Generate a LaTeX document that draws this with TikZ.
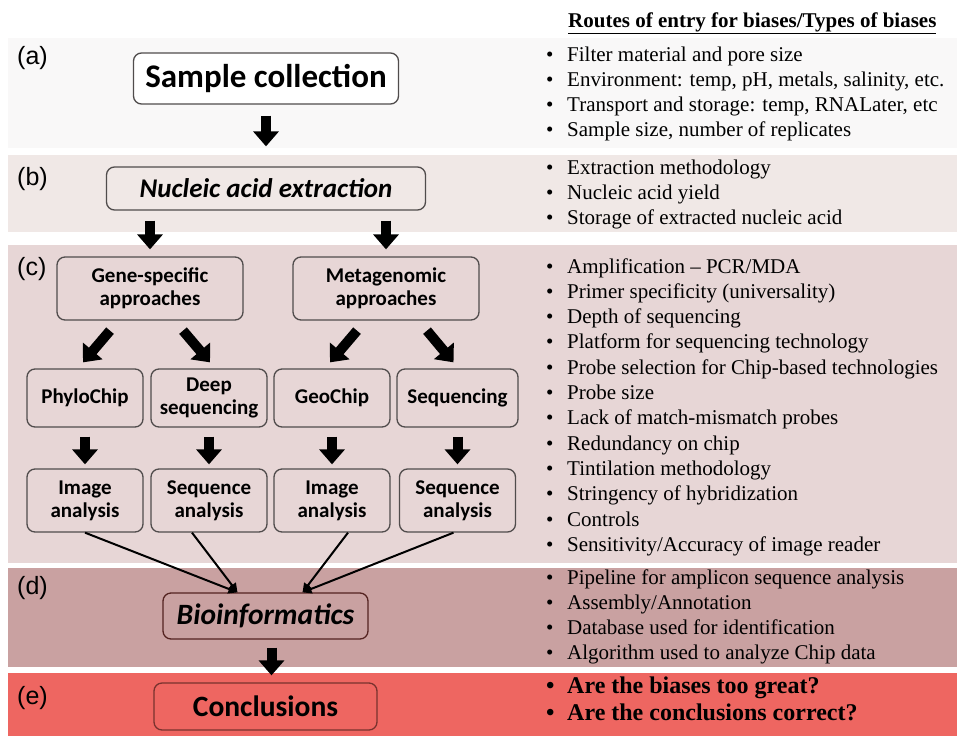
\documentclass[tikz,border=0pt]{standalone}
\usepackage{fontspec}
\setmainfont{Liberation Serif}
\newfontfamily\boxfont{Carlito}
\newfontfamily\tagfont{Liberation Sans}
\usetikzlibrary{positioning,arrows.meta,calc}
\definecolor{bandA}{RGB}{249,248,248}
\definecolor{bandB}{RGB}{240,232,230}
\definecolor{bandC}{RGB}{231,214,214}
\definecolor{bandD}{RGB}{201,161,161}
\definecolor{bandE}{RGB}{238,102,97}
\definecolor{edgegray}{RGB}{80,76,76}
\definecolor{edgered}{RGB}{120,50,46}

\begin{document}
\begin{tikzpicture}[x=1pt, y=-1pt,
      box/.style={draw=edgegray, line width=1.3pt, rounded corners=8pt, align=center,
                  inner sep=0pt, font=\boxfont\bfseries\fontsize{21}{23}\selectfont},
      small/.style={box, fill=bandC, minimum width=116pt, minimum height=58pt},
      tall/.style={box, fill=bandC, minimum width=116pt, minimum height=63pt},
      blk/.style={-{Triangle[width=25pt,length=15pt]}, line width=10pt},
      lnk/.style={-{Triangle[width=9pt,length=9pt]}, line width=2pt},
      tag/.style={anchor=base west, inner sep=0pt, font=\tagfont\fontsize{25}{27}\selectfont},
      item/.style={anchor=base west, inner sep=0pt, font=\fontsize{21}{23}\selectfont}]
    \useasboundingbox (0,0) rectangle (957,736);
    \fill[bandA] (8,38) rectangle (957,148);
    \fill[bandB] (8,155) rectangle (957,232);
    \fill[bandC] (8,245) rectangle (957,563);
    \fill[bandD] (8,568) rectangle (957,667);
    \fill[bandE] (8,673) rectangle (957,736);

    \node[tag] (ta) at (17,64) {(a)};
    \node[tag] (tb) at (17,185) {(b)};
    \node[tag] (tc) at (17,275) {(c)};
    \node[tag] (td) at (17,594) {(d)};
    \node[tag] (te) at (17,704) {(e)};

    \node[box, fill=white, minimum width=265pt, minimum height=51pt,
          font=\boxfont\bfseries\fontsize{33}{36}\selectfont] (sc) at (266,78.5) {Sample collection};
    \node[box, fill=bandB, minimum width=319pt, minimum height=43pt,
          font=\boxfont\bfseries\itshape\fontsize{27}{30}\selectfont] (nae) at (266,188.5) {Nucleic acid extraction};
    \node[box, fill=bandC, minimum width=186pt, minimum height=63pt] (gene) at (150,288.5) {Gene-specific\\approaches};
    \node[box, fill=bandC, minimum width=186pt, minimum height=63pt] (meta) at (386,288.5) {Metagenomic\\approaches};
    \node[small] (phylo) at (85,398) {PhyloChip};
    \node[small] (deep) at (209,398) {Deep\\sequencing};
    \node[small] (geo) at (332,398) {GeoChip};
    \node[small, minimum width=121pt] (seq) at (457.5,398) {Sequencing};
    \node[tall] (img1) at (85,500.5) {Image\\analysis};
    \node[tall] (sa1) at (209,500.5) {Sequence\\analysis};
    \node[tall] (img2) at (332,500.5) {Image\\analysis};
    \node[tall] (sa2) at (457.5,500.5) {Sequence\\analysis};
    \node[box, fill=bandD, draw=edgered!70!black, minimum width=205pt, minimum height=46pt,
          font=\boxfont\bfseries\itshape\fontsize{29.5}{32}\selectfont] (bio) at (265.5,616) {Bioinformatics};
    \node[box, fill=bandE, draw=edgered, minimum width=223pt, minimum height=47pt,
          font=\boxfont\bfseries\fontsize{29.5}{32}\selectfont] (concl) at (265.5,706.5) {Conclusions};

    \draw[blk, shorten <=11pt, shorten >=20pt] (sc) -- (nae);
    \draw[blk, shorten <=10pt, shorten >=7pt] (nae.south -| gene.north) -- (gene.north);
    \draw[blk, shorten <=10pt, shorten >=7pt] (nae.south -| meta.north) -- (meta.north);
    \draw[blk] ([xshift=-40pt,yshift=-10pt]gene.south) -- ([xshift=-2pt,yshift=6pt]phylo.north);
    \draw[blk] ([xshift=33pt,yshift=-10pt]gene.south) -- ([xshift=1pt,yshift=6pt]deep.north);
    \draw[blk] ([xshift=-29pt,yshift=-10pt]meta.south) -- ([xshift=-2pt,yshift=6pt]geo.north);
    \draw[blk] ([xshift=41pt,yshift=-10pt]meta.south) -- ([xshift=-4pt,yshift=6pt]seq.north);
    \foreach \a/\b in {phylo/img1, deep/sa1, geo/img2, seq/sa2}
      \draw[blk, shorten <=9pt, shorten >=4pt] (\a) -- (\b);
    \draw[lnk] (img1.south) -- ([xshift=-28pt]bio.north);
    \draw[lnk] ([xshift=-17pt]sa1.south) -- ([xshift=-28pt]bio.north);
    \draw[lnk] ([xshift=16pt]img2.south) -- ([xshift=37pt]bio.north);
    \draw[lnk] ([xshift=-4pt]sa2.south) -- ([xshift=37pt]bio.north);
    \draw[blk, shorten <=8pt, shorten >=7pt] ([xshift=6pt]bio.south) -- ([xshift=6pt]concl.north);

    \node[anchor=base west, inner sep=0pt, font=\bfseries\fontsize{21}{23}\selectfont] (head) at (568,27)
         {\underline{Routes of entry for biases/Types of biases}};
    \foreach \t [count=\i from 0] in {Filter material and pore size,
        {Environment: temp, pH, metals, salinity, etc.},
        {Transport and storage: temp, RNALater, etc},
        {Sample size, number of replicates}}
      \node[item] (ia\i) at (546,61+25.3*\i) {\makebox[21pt][l]{\textbullet}\t};
    \foreach \t [count=\i from 0] in {Extraction methodology, Nucleic acid yield,
        Storage of extracted nucleic acid}
      \node[item] (ib\i) at (546,174+25*\i) {\makebox[21pt][l]{\textbullet}\t};
    \foreach \t [count=\i from 0] in {Amplification -- PCR/MDA,
        Primer specificity (universality), Depth of sequencing,
        Platform for sequencing technology, Probe selection for Chip-based technologies,
        Probe size, Lack of match-mismatch probes, Redundancy on chip,
        Tintilation methodology, Stringency of hybridization, Controls,
        Sensitivity/Accuracy of image reader}
      \node[item] (ic\i) at (546,273+25.3*\i) {\makebox[21pt][l]{\textbullet}\t};
    \foreach \t [count=\i from 0] in {Pipeline for amplicon sequence analysis,
        Assembly/Annotation, Database used for identification,
        Algorithm used to analyze Chip data}
      \node[item] (id\i) at (546,584+25.3*\i) {\makebox[21pt][l]{\textbullet}\t};
    \foreach \t [count=\i from 0] in {Are the biases too great?, Are the conclusions correct?}
      \node[item, font=\bfseries\fontsize{24}{26}\selectfont] (ie\i) at (546,693+27*\i)
           {\makebox[21pt][l]{\textbullet}\t};
  \end{tikzpicture}
\end{document}
